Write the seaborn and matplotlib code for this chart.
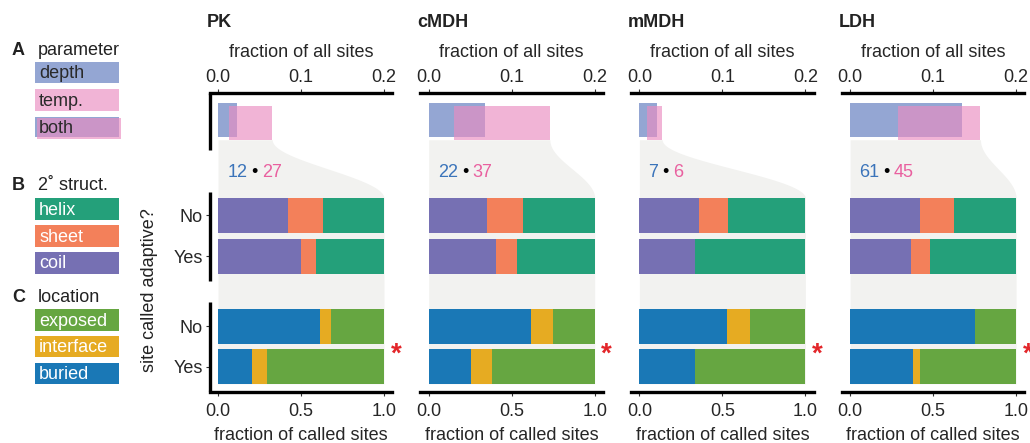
import numpy as np
import matplotlib
matplotlib.use("Agg")
import matplotlib.pyplot as plt
import seaborn as sns

# ---- data -------------------------------------------------------------
proteins = ["PK", "cMDH", "mMDH", "LDH"]
total_sites = [520, 322, 327, 452]
depth_sites = [12, 22, 7, 61]
temp_sites = [27, 37, 6, 45]
both_sites = [5, 12, 4, 35]

adaptive = ["No", "Yes"]

# fraction of called sites, secondary structure (helix = remainder)
coil_no = [0.419, 0.351, 0.360, 0.419]
coil_yes = [0.500, 0.404, 0.333, 0.366]
sheet_no = [0.216, 0.217, 0.173, 0.204]
sheet_yes = [0.088, 0.128, 0.000, 0.113]

# fraction of called sites, location (exposed = remainder)
buried_no = [0.613, 0.616, 0.529, 0.751]
buried_yes = [0.206, 0.255, 0.333, 0.380]
interface_no = [0.066, 0.133, 0.138, 0.000]
interface_yes = [0.088, 0.128, 0.000, 0.042]

param_labels = ["depth", "temp.", "both"]
struct_labels = ["helix", "sheet", "coil"]
loc_labels = ["exposed", "interface", "buried"]

# ---- style ------------------------------------------------------------
sns.set_theme(style="white")
plt.rcParams["font.family"] = ["Liberation Sans", "DejaVu Sans"]
plt.rcParams["font.size"] = 13
plt.rcParams["text.color"] = "#222222"

C_DEPTH = "#94a6d3"
C_TEMP = "#ea8cc1"
TEMP_ALPHA = 0.65
C_HELIX = "#24a07a"
C_SHEET = "#f3805a"
C_COIL = "#7670b3"
C_EXPOSED = "#66a641"
C_INTERFACE = "#e6ab22"
C_BURIED = "#1a78b6"
C_GRAY = "#f2f2f0"
C_NUM_BLUE = "#3b74ba"
C_NUM_PINK = "#e9609f"
C_STAR = "#e3262a"

W, H = 1030, 443
fig = plt.figure(figsize=(W / 100, H / 100), dpi=100)

unit = 166.0          # pixels per unit of "fraction of called sites"
y_param = 0.0
y_struct = [2.32, 3.33]
y_loc = [5.06, 6.05]
bar_h = 0.855
top_h = 0.84
scale_top = 0.2

for i, name in enumerate(proteins):
    x0 = 218 + i * 210.7
    ax = fig.add_axes([(x0 - 0.05 * unit) / W, 1 - 391.5 / H,
                       1.1 * unit / W, (391.5 - 93) / H])
    ax.set_xlim(-0.05, 1.05)
    ax.set_ylim(6.667, -0.704)

    n = total_sites[i]
    d_end = depth_sites[i] / n / scale_top
    t_start = (depth_sites[i] - both_sites[i]) / n / scale_top
    t_width = temp_sites[i] / n / scale_top
    union_end = max(d_end, t_start + t_width)

    # grey funnel linking the parameter bar to the called-site bars
    y0 = y_param + 0.03 + top_h / 2
    y1 = y_struct[0] - bar_h / 2
    y2 = y_loc[1] + bar_h / 2
    yy = np.linspace(y0, y1, 80)
    xr = union_end + (1 - union_end) * (1 - np.cos(np.pi * (yy - y0) / (y1 - y0))) / 2
    ax.fill_betweenx(np.r_[yy, y2], 0, np.r_[xr, 1.0], color=C_GRAY, lw=0, zorder=0)

    # parameter bars (top scale)
    ax.barh(y_param - 0.03, d_end, left=0, height=top_h, color=C_DEPTH, lw=0, zorder=2)
    ax.barh(y_param + 0.03, t_width, left=t_start, height=top_h, color=C_TEMP,
            alpha=TEMP_ALPHA, lw=0, zorder=3)

    # secondary structure
    for pos, coil, sheet in zip(y_struct, [coil_no[i], coil_yes[i]],
                                [sheet_no[i], sheet_yes[i]]):
        helix = 1 - coil - sheet
        ax.barh(pos, coil, left=0, height=bar_h, color=C_COIL, lw=0, zorder=2)
        ax.barh(pos, sheet, left=coil, height=bar_h, color=C_SHEET, lw=0, zorder=2)
        ax.barh(pos, helix, left=coil + sheet, height=bar_h, color=C_HELIX, lw=0, zorder=2)

    # location
    for pos, bur, itf in zip(y_loc, [buried_no[i], buried_yes[i]],
                             [interface_no[i], interface_yes[i]]):
        exp = 1 - bur - itf
        ax.barh(pos, bur, left=0, height=bar_h, color=C_BURIED, lw=0, zorder=2)
        ax.barh(pos, itf, left=bur, height=bar_h, color=C_INTERFACE, lw=0, zorder=2)
        ax.barh(pos, exp, left=bur + itf, height=bar_h, color=C_EXPOSED, lw=0, zorder=2)

    # counts "depth • temp"
    y_cnt = 1.25
    t1 = ax.text(0.055, y_cnt, str(depth_sites[i]), color=C_NUM_BLUE,
                 ha="left", va="center", fontsize=13)
    t2 = ax.annotate("•", xy=(1, 0.5), xycoords=t1, xytext=(3, 0),
                     textcoords="offset points", ha="left", va="center",
                     fontsize=13, color="black")
    ax.annotate(str(temp_sites[i]), xy=(1, 0.5), xycoords=t2, xytext=(3, 0),
                textcoords="offset points", ha="left", va="center",
                fontsize=13, color=C_NUM_PINK)

    # significance star
    ax.text(1.072, np.mean(y_loc) + 0.2, "*", color=C_STAR, fontsize=20,
            fontweight="bold", ha="center", va="center", clip_on=False)

    # axes styling
    sns.despine(ax=ax, left=True, top=True, right=True)
    ax.spines["bottom"].set_linewidth(2.4)
    ax.spines["bottom"].set_color("black")
    ax.set_xticks([0, 0.5, 1.0])
    ax.set_xticklabels(["0.0", "0.5", "1.0"])
    ax.tick_params(axis="x", direction="out", length=3, width=0.8,
                   color="#333333", labelsize=13, pad=5, bottom=True)
    ax.set_xlabel("fraction of called sites", fontsize=13, labelpad=5)

    sec = ax.secondary_xaxis("top", functions=(lambda v: v * scale_top,
                                               lambda v: v / scale_top))
    sec.set_xticks([0, 0.1, 0.2])
    sec.set_xticklabels(["0.0", "0.1", "0.2"])
    sec.spines["top"].set_linewidth(2.4)
    sec.spines["top"].set_color("black")
    sec.tick_params(axis="x", direction="out", length=3, width=0.8,
                    color="#333333", labelsize=13, pad=2)
    sec.set_xlabel("fraction of all sites", fontsize=13, labelpad=9)

    if i == 0:
        ax.set_yticks(y_struct + y_loc)
        ax.set_yticklabels(adaptive * 2)
        ax.tick_params(axis="y", direction="out", length=3, width=0.8,
                       color="#333333", labelsize=13, pad=2, left=True)
        tr = ax.get_yaxis_transform()
        for ya, yb in [(-0.704, 0.70), (1.74, 3.94), (4.46, 6.667)]:
            ax.plot([-0.0, -0.0], [ya, yb], color="black", lw=2.4,
                    transform=tr, clip_on=False, solid_capstyle="butt", zorder=5)
    else:
        ax.set_yticks([])

    fig.text((x0 - 0.05 * unit - 3) / W, 1 - 27 / H, name, fontsize=13,
             fontweight="bold", ha="left", va="baseline")

fig.text(150 / W, 1 - 290 / H, "site called adaptive?", rotation=90,
         ha="center", va="center", fontsize=13)

# ---- legend column ----------------------------------------------------
lax = fig.add_axes([0, 0, 205 / W, 1])
lax.set_xlim(0, 205)
lax.set_ylim(H, 0)
lax.axis("off")

box_left, box_w, box_h = 35, 84, 21.5
groups = [
    ("A", "parameter", 55, [72.7, 100.0, 127.0], param_labels,
     [C_DEPTH, C_TEMP, None], "#2a2a2a"),
    ("B", "2˚ struct.", 190, [209.0, 236.0, 263.0], struct_labels,
     [C_HELIX, C_SHEET, C_COIL], "white"),
    ("C", "location", 301.5, [320.0, 346.7, 373.7], loc_labels,
     [C_EXPOSED, C_INTERFACE, C_BURIED], "white"),
]
for letter, title, base, centers, labels, colors, tcol in groups:
    lax.text(12, base, letter, fontweight="bold", fontsize=13, va="baseline")
    lax.text(38, base, title, fontsize=13, va="baseline")
    for c, lab, col in zip(centers, labels, colors):
        if col is None:  # "both": overlapping depth and temp boxes
            lax.barh(c, box_w, left=box_left, height=box_h - 1, color=C_DEPTH, lw=0)
            lax.barh(c + 1.8, box_w + 0.5, left=box_left + 1.8, height=box_h - 0.5,
                     color=C_TEMP, alpha=TEMP_ALPHA, lw=0)
        else:
            lax.barh(c, box_w, left=box_left, height=box_h, color=col,
                     alpha=TEMP_ALPHA if col == C_TEMP else 1.0, lw=0)
        lax.text(39, c + 1, lab, color=tcol, fontsize=13, va="center", ha="left")

fig.savefig("out.png", dpi=100)
